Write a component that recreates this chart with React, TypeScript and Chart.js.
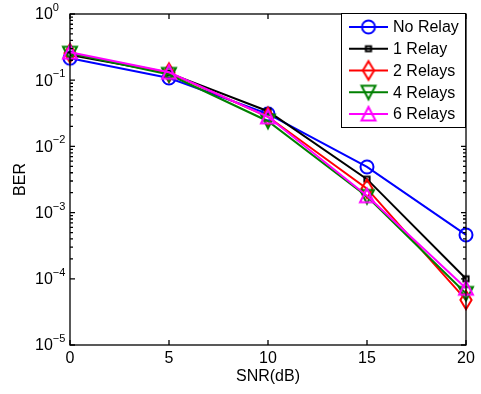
import React, { useEffect, useRef } from 'react';
import { Chart, registerables } from 'chart.js';

Chart.register(...registerables);

// ---- data ----
const snr = [0, 5, 10, 15, 20];
const noRelay = [0.215, 0.108, 0.031, 0.0049, 0.00046];
const relay1 = [0.24, 0.128, 0.034, 0.0032, 0.0001];
const relay2 = [0.255, 0.13, 0.028, 0.0023, 0.000048];
const relay4 = [0.255, 0.122, 0.024, 0.00175, 0.00006];
const relay6 = [0.265, 0.132, 0.028, 0.0018, 0.000072];

const seriesLabels = ['No Relay', '1 Relay', '2 Relays', '4 Relays', '6 Relays'];
const xTicks = [0, 5, 10, 15, 20];
const yDecades = [0, -1, -2, -3, -4, -5];
const xTitle = 'SNR(dB)';
const yTitle = 'BER';

const seriesValues = [noRelay, relay1, relay2, relay4, relay6];
const colors = ['#0000ff', '#000000', '#ff0000', '#008000', '#ff00ff'];
const markerShapes = ['circle', 'square', 'diamond', 'triDown', 'triUp'];

const FONT = '"Liberation Sans", Arial, Helvetica, sans-serif';

function makeMarker(shape: string, color: string): HTMLCanvasElement {
  const c = document.createElement('canvas');
  const W = 20, H = 24;
  c.width = W;
  c.height = H;
  const ctx = c.getContext('2d')!;
  const cx = W / 2, cy = H / 2;
  ctx.strokeStyle = color;
  ctx.lineWidth = 2;
  ctx.lineJoin = 'miter';
  ctx.beginPath();
  if (shape === 'circle') {
    ctx.arc(cx, cy, 6.5, 0, Math.PI * 2);
  } else if (shape === 'square') {
    ctx.rect(cx - 2.6, cy - 2.6, 5.2, 5.2);
  } else if (shape === 'diamond') {
    ctx.moveTo(cx, cy - 9.3);
    ctx.lineTo(cx + 5.6, cy);
    ctx.lineTo(cx, cy + 9.3);
    ctx.lineTo(cx - 5.6, cy);
    ctx.closePath();
  } else if (shape === 'triUp') {
    ctx.moveTo(cx, cy - 7);
    ctx.lineTo(cx + 7, cy + 6.5);
    ctx.lineTo(cx - 7, cy + 6.5);
    ctx.closePath();
  } else if (shape === 'triDown') {
    ctx.moveTo(cx, cy + 7);
    ctx.lineTo(cx + 7, cy - 6.5);
    ctx.lineTo(cx - 7, cy - 6.5);
    ctx.closePath();
  }
  ctx.stroke();
  return c;
}

let markerCanvases: HTMLCanvasElement[] = [];

const axesPlugin = {
  id: 'matlabAxes',
  afterDatasetsDraw(chart: any) {
    const { ctx, chartArea: a, scales } = chart;
    const xs = scales.x;
    const ys = scales.y;
    ctx.save();
    ctx.strokeStyle = '#000';
    ctx.lineWidth = 1.3;
    ctx.strokeRect(a.left, a.top, a.right - a.left, a.bottom - a.top);
    ctx.beginPath();
    xTicks.forEach((v) => {
      const px = xs.getPixelForValue(v);
      ctx.moveTo(px, a.bottom);
      ctx.lineTo(px, a.bottom - 5);
      ctx.moveTo(px, a.top);
      ctx.lineTo(px, a.top + 5);
    });
    yDecades.forEach((d) => {
      const base = Math.pow(10, d);
      const py = ys.getPixelForValue(base);
      ctx.moveTo(a.left, py);
      ctx.lineTo(a.left + 5, py);
      ctx.moveTo(a.right, py);
      ctx.lineTo(a.right - 5, py);
      if (d > -5) {
        for (let m = 2; m <= 9; m++) {
          const pm = ys.getPixelForValue(base * m);
          ctx.moveTo(a.left, pm);
          ctx.lineTo(a.left + 3, pm);
          ctx.moveTo(a.right, pm);
          ctx.lineTo(a.right - 3, pm);
        }
      }
    });
    ctx.stroke();

    ctx.fillStyle = '#000';
    ctx.font = `16px ${FONT}`;
    ctx.textAlign = 'center';
    ctx.textBaseline = 'middle';
    xTicks.forEach((v) => {
      ctx.fillText(String(v), xs.getPixelForValue(v), a.bottom + 14);
    });
    yDecades.forEach((d) => {
      const py = ys.getPixelForValue(Math.pow(10, d));
      ctx.font = `16px ${FONT}`;
      ctx.textAlign = 'left';
      ctx.fillText('10', 35, py + 1);
      const w = ctx.measureText('10').width;
      ctx.font = `11px ${FONT}`;
      ctx.fillText(d === 0 ? '0' : '\u2212' + String(-d), 35 + w, py - 6);
    });

    ctx.font = `16px ${FONT}`;
    ctx.textAlign = 'center';
    ctx.fillText(xTitle, (a.left + a.right) / 2, a.bottom + 32);
    ctx.save();
    ctx.translate(21, (a.top + a.bottom) / 2);
    ctx.rotate(-Math.PI / 2);
    ctx.fillText(yTitle, 0, 0);
    ctx.restore();

    // legend
    const lx = 341, ly = 13, lw = a.right - 341, lh = 114;
    ctx.fillStyle = '#fff';
    ctx.fillRect(lx, ly, lw, lh);
    ctx.lineWidth = 1;
    ctx.strokeStyle = '#000';
    ctx.strokeRect(lx + 0.5, ly + 0.5, lw - 1, lh);
    seriesLabels.forEach((lab, i) => {
      const y = 27 + i * 21.75;
      ctx.strokeStyle = colors[i];
      ctx.lineWidth = 2;
      ctx.beginPath();
      ctx.moveTo(349, y);
      ctx.lineTo(388, y);
      ctx.stroke();
      const m = markerCanvases[i];
      if (m) ctx.drawImage(m, 368.5 - m.width / 2, y - m.height / 2);
      ctx.fillStyle = '#000';
      ctx.font = `16px ${FONT}`;
      ctx.textAlign = 'left';
      ctx.textBaseline = 'middle';
      ctx.fillText(lab, 393, y + 1);
    });
    ctx.restore();
  },
};

export default function App() {
  const ref = useRef<HTMLCanvasElement>(null);
  useEffect(() => {
    document.body.style.margin = '0';
    markerCanvases = markerShapes.map((s, i) => makeMarker(s, colors[i]));
    const canvas = ref.current!;
    const datasets = seriesLabels.map((lab, i) => ({
      label: lab,
      data: snr.map((s, j) => ({ x: s, y: seriesValues[i][j] })),
      borderColor: colors[i],
      backgroundColor: 'rgba(0,0,0,0)',
      borderWidth: 2,
      pointStyle: markerCanvases[i] as any,
      pointRadius: 8,
      pointBorderWidth: 2,
      pointBorderColor: colors[i],
      pointBackgroundColor: 'rgba(0,0,0,0)',
      tension: 0,
      clip: false as any,
      order: 5 - i,
    }));
    const chart = new Chart(canvas, {
      type: 'line',
      data: { datasets },
      options: {
        responsive: false,
        animation: false,
        events: [],
        layout: { padding: { left: 70, right: 15, top: 14, bottom: 49 } },
        plugins: { legend: { display: false }, tooltip: { enabled: false } },
        scales: {
          x: { type: 'linear', min: 0, max: 20, display: false },
          y: { type: 'logarithmic', min: 1e-5, max: 1, display: false },
        },
      },
      plugins: [axesPlugin],
    });
    return () => chart.destroy();
  }, []);
  return (
    <div style={{ width: 481, height: 394, background: '#fff' }}>
      <canvas ref={ref} width={481} height={394} style={{ display: 'block' }} />
    </div>
  );
}
